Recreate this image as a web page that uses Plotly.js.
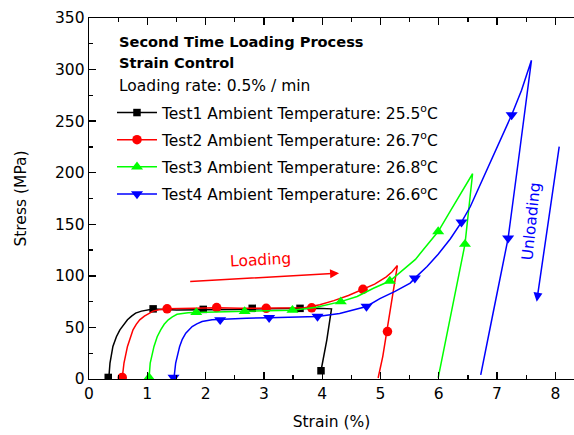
<!DOCTYPE html>
<html>
<head>
<meta charset="utf-8">
<script src="https://cdn.plot.ly/plotly-3.0.1.min.js"></script>
<style>html,body{margin:0;padding:0;background:#fff;}#chart{width:574px;height:435px;}</style>
</head>
<body>
<div id="chart"></div>
<script>
// ---- data (strain %, stress MPa) ----
const test1Strain = [0.34, 0.36, 0.41, 0.47, 0.53, 0.6, 0.66, 0.73, 0.8, 0.9, 1.0, 1.1, 1.5, 2.0, 2.5, 3.0, 3.5, 3.9, 4.16, 4.08, 3.98];
const test1Stress = [1, 15.5, 31.6, 41, 47.7, 53, 57.4, 61, 63.9, 65.8, 67.1, 67.8, 67, 67, 67.5, 68, 68.5, 68.5, 68, 38, 8];
const test1MarkStrain = [0.33, 1.1, 1.96, 2.8, 3.62, 3.98];
const test1MarkStress = [1.5, 68, 67.5, 68.5, 68.5, 8];

const test2Strain = [0.57, 0.6, 0.66, 0.71, 0.755, 0.81, 0.87, 0.95, 1.03, 1.1, 1.2, 1.34, 1.8, 2.2, 2.6, 3.0, 3.4, 3.7, 3.96, 4.2, 4.45, 4.7, 4.9, 5.1, 5.2, 5.29, 5.2, 5.12, 5.04, 4.96];
const test2Stress = [1, 15.5, 31.6, 40.5, 47.7, 53, 57.4, 61, 63.9, 65.8, 67.1, 68, 68.5, 69, 68.5, 68.5, 68.5, 69, 72, 76, 81, 87, 92, 99, 104, 110, 78, 46, 22, 1];
const test2MarkStrain = [0.57, 1.34, 2.19, 3.04, 3.82, 4.70, 5.12];
const test2MarkStress = [1.5, 68, 69.3, 68.5, 69, 87, 46];

const test3Strain = [1.03, 1.05, 1.115, 1.17, 1.23, 1.29, 1.36, 1.43, 1.51, 1.6, 1.7, 1.82, 2.2, 2.67, 3.1, 3.49, 3.9, 4.32, 4.6, 4.88, 5.16, 5.39, 5.6, 5.73, 5.99, 6.2, 6.4, 6.58, 6.45, 6.32, 6.14, 5.99];
const test3Stress = [1, 15.5, 31.6, 41, 47.7, 53, 57.4, 60.3, 62.7, 63.7, 64.2, 64.5, 65, 65.5, 66, 66.7, 69.5, 75, 80, 88, 95, 105.8, 116, 125, 143, 163, 182, 199, 130.7, 93, 44.5, 1];
const test3MarkStrain = [1.03, 1.84, 2.67, 3.49, 4.32, 5.16, 5.99, 6.45];
const test3MarkStress = [1.5, 64.5, 65.5, 66.7, 75, 95, 143, 130.7];

const test4Strain = [1.458, 1.487, 1.555, 1.6, 1.66, 1.77, 1.85, 1.94, 2.11, 2.26, 2.7, 3.09, 3.5, 3.92, 4.3, 4.76, 4.99, 5.25, 5.51, 5.59, 5.8, 5.99, 6.2, 6.39, 6.54, 6.88, 7.25, 7.42, 7.59, 7.39, 7.19, 6.92, 6.72];
const test4Stress = [1, 15.5, 31.6, 38.5, 44.4, 50.8, 53.5, 55.7, 57.5, 58, 58.8, 59.5, 60, 60.6, 63.5, 70.3, 78, 85, 93, 97.8, 109, 121, 136, 152, 167, 209, 256, 280, 309, 222, 136.5, 60.6, 4];
const test4MarkStrain = [1.45, 2.25, 3.09, 3.92, 4.76, 5.59, 6.39, 7.25, 7.19];
const test4MarkStress = [1.5, 57.4, 59.5, 60.6, 70.3, 97.8, 152, 256, 136.5];

const legendNames = [
  'Test1 Ambient Temperature: 25.5<sup>o</sup>C',
  'Test2 Ambient Temperature: 26.7<sup>o</sup>C',
  'Test3 Ambient Temperature: 26.8<sup>o</sup>C',
  'Test4 Ambient Temperature: 26.6<sup>o</sup>C'
];
const headerLines = ['<b>Second Time Loading Process</b>', '<b>Strain Control</b>', 'Loading rate: 0.5% / min'];
const xTitle = 'Strain (%)';
const yTitle = 'Stress (MPa)';
const loadingLabel = 'Loading';
const unloadingLabel = 'Unloading';

// ---- styling ----
const FONT = 'DejaVu Sans, sans-serif';
const FS = 15.5;
const colors = ['#000000', '#ff0000', '#00ff00', '#0000ff'];
const symbols = ['square', 'circle', 'triangle-up', 'triangle-down'];
const msizes = [7.5, 9.5, 10.5, 10.5];

const curves = [
  [test1Strain, test1Stress, test1MarkStrain, test1MarkStress],
  [test2Strain, test2Stress, test2MarkStrain, test2MarkStress],
  [test3Strain, test3Stress, test3MarkStrain, test3MarkStress],
  [test4Strain, test4Stress, test4MarkStrain, test4MarkStress]
];

const traces = [];
curves.forEach((c, i) => {
  traces.push({x: c[0], y: c[1], mode: 'lines', line: {color: colors[i], width: 1.5}, showlegend: false, hoverinfo: 'skip'});
  traces.push({x: c[2], y: c[3], mode: 'markers', marker: {color: colors[i], symbol: symbols[i], size: msizes[i]}, showlegend: false, hoverinfo: 'skip'});
});
// legend entries (line + marker sample)
curves.forEach((c, i) => {
  traces.push({x: [null], y: [null], mode: 'lines+markers', name: legendNames[i], legendgroup: 'g' + i,
    line: {color: colors[i], width: 1.5}, marker: {color: colors[i], symbol: symbols[i], size: msizes[i]}});
});

const annotations = [];
const headerY = [0.9336, 0.8754, 0.8118];
headerLines.forEach((t, i) => {
  annotations.push({xref: 'paper', yref: 'paper', x: 0.0577, y: headerY[i], xanchor: 'left', yanchor: 'middle',
    text: t, showarrow: false, font: {family: FONT, size: i < 2 ? 14.6 : FS, color: '#000'}});
});
annotations.push({x: 2.95, y: 115.5, text: loadingLabel, showarrow: false, textangle: -3, font: {family: FONT, size: FS, color: '#ff0000'}});
annotations.push({x: 4.29, y: 102.6, ax: 1.71, ay: 94.5, axref: 'x', ayref: 'y', text: '', showarrow: true, arrowhead: 2, arrowsize: 1.2, arrowwidth: 1.5, arrowcolor: '#ff0000'});
annotations.push({x: 7.68, y: 75, ax: 8.07, ay: 226.7, axref: 'x', ayref: 'y', text: '', showarrow: true, arrowhead: 2, arrowsize: 1.2, arrowwidth: 1.5, arrowcolor: '#0000ff'});
annotations.push({x: 7.58, y: 152.6, text: unloadingLabel, showarrow: false, textangle: -84, font: {family: FONT, size: FS, color: '#0000ff'}});

const layout = {
  width: 574, height: 435,
  margin: {l: 89, r: 0, t: 18, b: 56},
  paper_bgcolor: '#fff', plot_bgcolor: '#fff',
  font: {family: FONT, size: FS, color: '#000'},
  showlegend: true,
  legend: {x: 0.0474, y: 0.784, xanchor: 'left', yanchor: 'top', bgcolor: 'rgba(0,0,0,0)', borderwidth: 0,
    font: {family: FONT, size: FS, color: '#000'}, itemwidth: 40, tracegroupgap: 4, itemclick: false},
  xaxis: {range: [0, 8.32], dtick: 1, tick0: 0, showgrid: false, zeroline: false, showline: true, linecolor: '#000', linewidth: 1.3,
    ticks: 'inside', ticklen: 7, tickwidth: 1.3, tickcolor: '#000', mirror: 'allticks',
    minor: {dtick: 0.5, ticks: 'inside', ticklen: 4, tickwidth: 1.3, tickcolor: '#000', showgrid: false},
    tickfont: {family: FONT, size: FS}, title: {text: xTitle, font: {family: FONT, size: FS}, standoff: 14}},
  yaxis: {range: [0, 350], dtick: 50, tick0: 0, showgrid: false, zeroline: false, showline: true, linecolor: '#000', linewidth: 1.3,
    ticks: 'inside', ticklen: 7, tickwidth: 1.3, tickcolor: '#000',
    minor: {dtick: 25, ticks: 'inside', ticklen: 4, tickwidth: 1.3, tickcolor: '#000', showgrid: false},
    tickfont: {family: FONT, size: FS}, title: {text: yTitle, font: {family: FONT, size: FS}, standoff: 24}},
  annotations: annotations
};

Plotly.newPlot('chart', traces, layout, {staticPlot: true, displayModeBar: false});
</script>
</body>
</html>
